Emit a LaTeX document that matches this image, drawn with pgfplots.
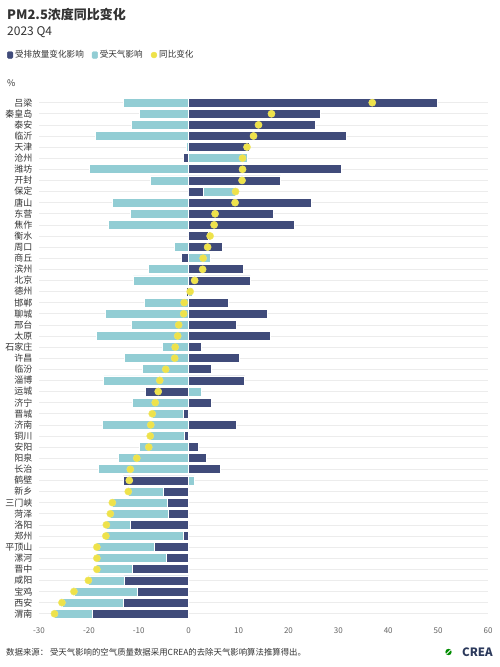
\documentclass[border=0pt]{standalone}
\usepackage{fontspec}
\setmainfont{Noto Sans CJK SC}
\usepackage{pgfplots}
\usepackage{pgfplotstable}
\pgfplotsset{compat=1.18}
\definecolor{navy}{RGB}{64,75,122}
\definecolor{tealc}{RGB}{146,205,212}
\definecolor{dotc}{RGB}{238,226,74}
\definecolor{gridc}{RGB}{236,236,236}
\definecolor{txt}{RGB}{51,51,51}
\definecolor{ticktxt}{RGB}{100,100,100}
\definecolor{logoc}{RGB}{44,58,92}
\pgfplotstableread{
idx city navy teal
0 吕梁 49.9 -13.1
1 秦皇岛 26.4 -9.8
2 泰安 25.5 -11.5
3 临沂 31.7 -18.7
4 天津 12.2 -0.5
5 沧州 -1.0 11.8
6 潍坊 30.7 -19.9
7 开封 18.4 -7.7
8 保定 3.0 6.4
9 唐山 24.6 -15.3
10 东营 17.0 -11.7
11 焦作 21.1 -16.0
12 衡水 3.9 0.4
13 周口 6.7 -2.9
14 商丘 -1.5 4.4
15 滨州 10.9 -8.1
16 北京 12.3 -11.1
17 德州 -0.5 0.8
18 邯郸 8.0 -8.9
19 聊城 15.7 -16.7
20 邢台 9.5 -11.5
21 太原 16.3 -18.5
22 石家庄 2.6 -5.3
23 许昌 10.1 -12.9
24 临汾 4.6 -9.2
25 淄博 11.2 -17.0
26 运城 -8.6 2.5
27 济宁 4.5 -11.2
28 晋城 -1.0 -6.3
29 济南 9.6 -17.2
30 铜川 -0.8 -6.9
31 安阳 1.9 -9.9
32 阳泉 3.6 -14.0
33 长治 6.3 -18.0
34 鹤壁 -13.1 1.2
35 新乡 -5.0 -7.1
36 三门峡 -4.2 -11.1
37 菏泽 -4.0 -11.7
38 洛阳 -11.6 -4.9
39 郑州 -1.0 -15.6
40 平顶山 -6.8 -11.6
41 漯河 -4.4 -14.0
42 晋中 -11.3 -7.1
43 咸阳 -12.9 -7.2
44 宝鸡 -10.3 -12.7
45 西安 -13.1 -12.3
46 渭南 -19.2 -7.7
}\data
\begin{document}
\begin{tikzpicture}
\path[use as bounding box] (0,0) rectangle (500pt,667pt);
\node[anchor=west, inner sep=0pt, text=txt, font=\fontsize{13}{13}\selectfont\bfseries] at (7pt,652pt) {PM2.5浓度同比变化};
\node[anchor=west, inner sep=0pt, text=txt, font=\fontsize{12}{12}\selectfont] at (7pt,635pt) {2023 Q4};
\node[anchor=west, inner sep=0pt, text=txt, font=\fontsize{9}{9}\selectfont] at (7pt,584pt) {\%};
\node[anchor=west, inner sep=0pt, text=txt, font=\fontsize{8.4}{8.4}\selectfont] at (6pt,15pt) {数据来源：\ 受天气影响的空气质量数据采用CREA的去除天气影响算法推算得出。};
\node[anchor=east, inner sep=0pt, text=logoc, font=\fontsize{11.5}{11.5}\selectfont\bfseries] at (493pt,15pt) {CREA};
\fill[green!55!black] (448.5pt,15pt) circle (3.2pt);
\draw[white, line width=0.9pt] (446.5pt,13pt) -- (450.5pt,17pt);
\begin{axis}[
  at={(39pt,47.7pt)}, anchor=south west,
  scale only axis, width=449pt, height=522.2pt,
  xmin=-30, xmax=60, ymin=-0.5, ymax=46.5, y dir=reverse,
  xtick={-30,-20,...,60},
  ytick={0,...,46},
  yticklabels from table={\data}{city},
  axis line style={draw=none}, tick style={draw=none},
  ymajorgrids, grid style={color=gridc, line width=0.7pt},
  /pgf/number format/assume math mode=true,
  yticklabel style={font=\fontsize{9}{9}\selectfont, text=txt, xshift=-3pt},
  xticklabel style={font=\fontsize{8}{8}\selectfont, text=ticktxt, yshift=-5pt},
  legend style={at={(axis description cs:-0.0713,1.0806)}, anchor=west, draw=none, fill=none, inner sep=0pt,
    font=\fontsize{8.6}{8.6}\selectfont, text=txt,
    /tikz/every even column/.append style={column sep=6pt}},
  legend columns=-1, legend cell align=left,
]
\addlegendimage{legend image code/.code={\fill[navy, rounded corners=1pt] (0pt,-3.3pt) rectangle (5.5pt,3.3pt);}}
\addlegendentry{受排放量变化影响}
\addlegendimage{legend image code/.code={\fill[tealc, rounded corners=1pt] (0pt,-3.3pt) rectangle (5.5pt,3.3pt);}}
\addlegendentry{受天气影响}
\addlegendimage{legend image code/.code={\fill[dotc] (2.8pt,0pt) circle (3pt);}}
\addlegendentry{同比变化}
\addplot[forget plot, xbar, bar shift=0pt, bar width=9pt, fill=tealc, draw=white, line width=0.8pt]
  table[x expr={ifthenelse(\thisrow{navy}*\thisrow{teal}>0, \thisrow{navy}+\thisrow{teal}, \thisrow{teal})}, y=idx] {\data};
\addplot[forget plot, xbar, bar shift=0pt, bar width=9pt, fill=navy, draw=white, line width=0.8pt]
  table[x=navy, y=idx] {\data};
\addplot[forget plot, only marks, mark=*, mark size=3.6pt, mark options={fill=dotc, draw=dotc!85!white}]
  table[x expr={\thisrow{navy}+\thisrow{teal}}, y=idx] {\data};
\end{axis}
\end{tikzpicture}
\end{document}
